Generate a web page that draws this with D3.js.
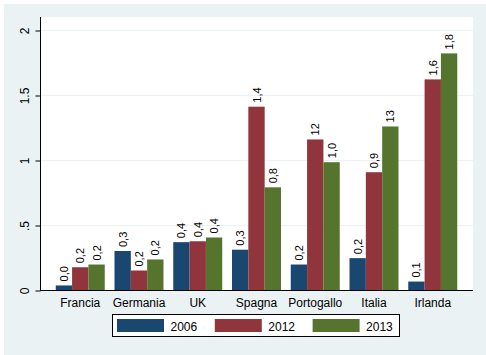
<!DOCTYPE html>
<html><head><meta charset="utf-8">
<script src="https://cdn.jsdelivr.net/npm/d3@7"></script>
<style>body{margin:0;background:#fff}svg{display:block}text{font-family:"Liberation Sans",Arial,sans-serif}</style>
</head><body><svg id="c" width="486" height="355"></svg>
<script>
const categories = ["Francia","Germania","UK","Spagna","Portogallo","Italia","Irlanda"];
const seriesNames = ["2006","2012","2013"];
const v2006 = [0.035,0.30,0.368,0.31,0.196,0.245,0.065];
const v2012 = [0.175,0.15,0.375,1.41,1.158,0.906,1.62];
const v2013 = [0.196,0.235,0.404,0.79,0.983,1.258,1.82];
const lab2006 = ["0,0","0,3","0,4","0,3","0,2","0,2","0,1"];
const lab2012 = ["0,2","0,2","0,4","1,4","12","0,9","1,6"];
const lab2013 = ["0,2","0,2","0,4","0,8","1,0","13","1,8"];
const yTicks = [0,0.5,1,1.5,2];
const yTickLabels = ["0",".5","1","1.5","2"];
const colors = ["#1A476F","#90353B","#55752F"];

const values = [v2006,v2012,v2013];
const labels = [lab2006,lab2012,lab2013];
const svg = d3.select("#c");
const L=40,R=473,T=17,B=290;
svg.append("rect").attr("x",4).attr("y",4).attr("width",482).attr("height",351).attr("fill","#EAF2F3");
svg.append("rect").attr("x",L).attr("y",T).attr("width",R-L).attr("height",B-T).attr("fill","#fff");

const y = d3.scaleLinear().domain([0,2]).range([B,30]);
const x0 = d3.scaleBand().domain(categories).range([L,R]).paddingInner(0.166).paddingOuter(0.268);
const x1 = d3.scaleBand().domain(seriesNames).range([0,x0.bandwidth()]);

// gridlines
svg.append("g").selectAll("line").data(yTicks.filter(d=>d>0)).join("line")
  .attr("x1",L).attr("x2",R).attr("y1",d=>Math.round(y(d))+0.5).attr("y2",d=>Math.round(y(d))+0.5)
  .attr("stroke","#EAF2F3").attr("stroke-width",1);

// bars
const g = svg.append("g");
seriesNames.forEach((s,si)=>{
  categories.forEach((c,ci)=>{
    const v = values[si][ci];
    const bx = x0(c)+x1(s);
    g.append("rect").attr("x",bx).attr("y",y(v)).attr("width",x1.bandwidth()).attr("height",y(0)-y(v)).attr("fill",colors[si]);
    const cx = bx + x1.bandwidth()/2 + 4;
    const ty = y(v) - 4;
    g.append("text").attr("transform",`translate(${cx},${ty}) rotate(-90)`)
      .attr("text-anchor","start").attr("font-size",11).attr("fill","#000").text(labels[si][ci]);
  });
});

// y axis
const ya = d3.axisLeft(y).tickValues(yTicks).tickFormat((d,i)=>yTickLabels[i]).tickSize(5).tickSizeOuter(0);
const yg = svg.append("g").attr("transform",`translate(${L+0.5},0.5)`).call(ya);
yg.select(".domain").remove();
yg.selectAll(".tick line").attr("stroke","#000");
yg.selectAll(".tick text").attr("font-size",12).attr("fill","#000")
  .attr("x",0).attr("dy",null).attr("text-anchor","middle")
  .attr("transform","translate(-11.5,0) rotate(-90)");
svg.append("line").attr("x1",L+0.5).attr("x2",L+0.5).attr("y1",T).attr("y2",B+1).attr("stroke","#000");
svg.append("line").attr("x1",L).attr("x2",R).attr("y1",B+0.5).attr("y2",B+0.5).attr("stroke","#000");

// x axis labels
const xa = d3.axisBottom(x0).tickSize(0);
const xg = svg.append("g").attr("transform",`translate(0,${B})`).call(xa);
xg.select(".domain").remove();
xg.selectAll(".tick text").attr("font-size",12).attr("fill","#000").attr("y",0).attr("dy",null)
  .attr("transform","translate(0,17)");

// legend
svg.append("rect").attr("x",112.5).attr("y",314.5).attr("width",287).attr("height",22).attr("fill","#fff").attr("stroke","#000");
seriesNames.forEach((s,i)=>{
  const lx = 117 + i*97.8;
  svg.append("rect").attr("x",lx).attr("y",319).attr("width",47).attr("height",13).attr("fill",colors[i]);
  svg.append("text").attr("x",lx+53.5).attr("y",330.5).attr("font-size",12).attr("fill","#000").text(s);
});
</script></body></html>
